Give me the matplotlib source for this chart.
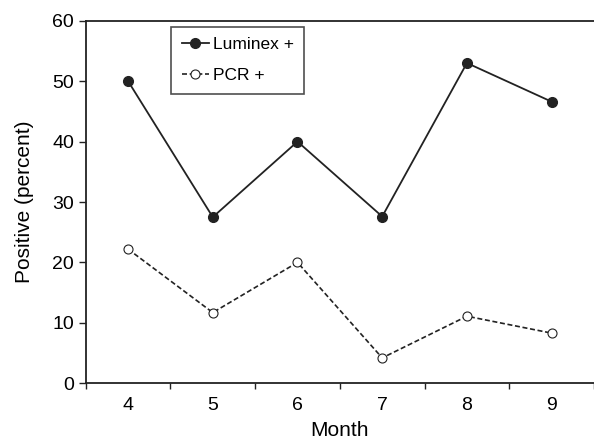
import matplotlib
matplotlib.use("Agg")
import matplotlib.pyplot as plt
import numpy as np

plt.rcParams['font.family'] = ['Liberation Sans', 'DejaVu Sans']

months = [4, 5, 6, 7, 8, 9]
luminex = [50.0, 27.5, 40.0, 27.6, 53.0, 46.6]
pcr = [22.2, 11.7, 20.0, 4.2, 11.1, 8.3]

col = '#222222'

fig = plt.figure(figsize=(5.94, 4.40), dpi=100)
ax = fig.add_axes([0.1443, 0.1289, 0.8557, 0.824])

ax.plot(months, luminex, '-', color=col, lw=1.3, marker='o', ms=7,
        mfc=col, mec=col, label='Luminex +')
ax.plot(months, pcr, '--', color=col, lw=1.2, marker='o', ms=6.5,
        mfc='white', mec=col, mew=0.8, label='PCR +', dashes=(3, 1.6))

ax.set_xlim(3.5, 9.39)
ax.set_ylim(0, 60)
ax.set_xticks(np.arange(3.5, 9.6, 1.0))
ax.set_xticklabels([])
ax.set_xticks(months, minor=True)
ax.set_xticklabels([str(m) for m in months], minor=True)
ax.tick_params(axis='x', which='minor', length=0, labelsize=14, pad=10)
ax.tick_params(axis='x', which='major', direction='out', length=4, width=1, color=col)
ax.set_yticks(range(0, 61, 10))
ax.tick_params(axis='y', direction='out', length=5, width=1, labelsize=14, color=col)

for s in ['left', 'top', 'bottom']:
    ax.spines[s].set_linewidth(1.3)
    ax.spines[s].set_color(col)
ax.spines['right'].set_visible(False)

ax.set_xlabel('Month', fontsize=15, labelpad=5)
ax.set_ylabel('Positive (percent)', fontsize=15, labelpad=13)

leg = ax.legend(loc='upper left', bbox_to_anchor=(0.168, 0.983), fontsize=12.5,
                frameon=True, fancybox=False, handlelength=1.6, handletextpad=0.2,
                borderpad=0.6, labelspacing=0.9, borderaxespad=0)
leg.get_frame().set_edgecolor(col)
leg.get_frame().set_linewidth(1.2)

fig.savefig('out.png', dpi=100)
